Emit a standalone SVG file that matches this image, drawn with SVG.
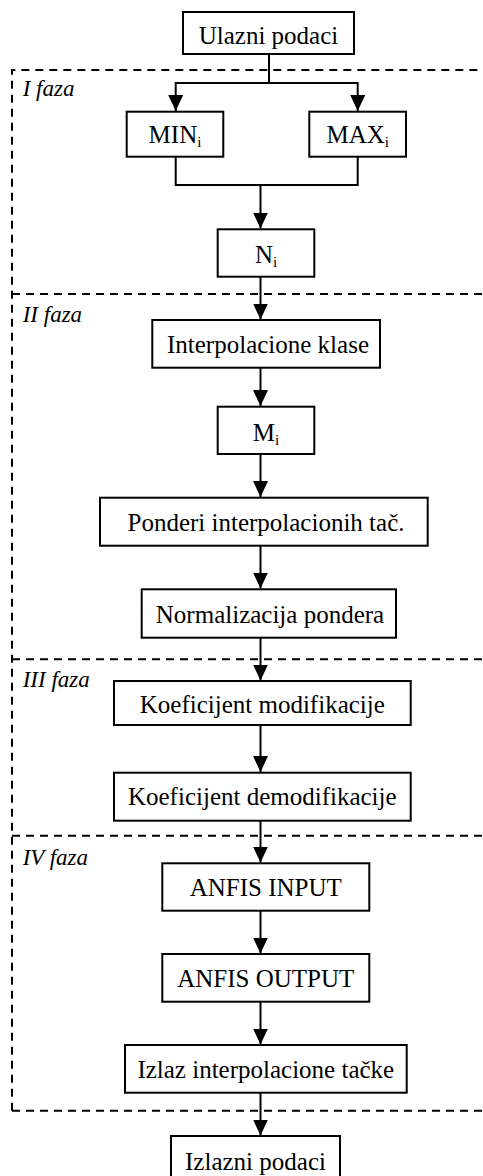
<svg xmlns="http://www.w3.org/2000/svg" width="483" height="1176" viewBox="0 0 483 1176">
<style>
.box{fill:#fff;stroke:#000;stroke-width:2}
.t{font-family:"Liberation Serif","Times New Roman",serif;font-size:25px;fill:#000;text-anchor:middle}
.s{font-size:15px}
.ph{font-family:"Liberation Serif","Times New Roman",serif;font-size:23px;font-style:italic;fill:#000}
.dash{stroke:#000;stroke-width:2;stroke-dasharray:8,6;fill:none}
.c{stroke:#000;stroke-width:2;fill:none}
</style>
<defs>
<marker id="ah" markerUnits="userSpaceOnUse" markerWidth="16" markerHeight="15" refX="16" refY="7.5" orient="auto" viewBox="0 0 16 15">
<path d="M0,0 L16,7.5 L0,15 Z" fill="#000"/>
</marker>
</defs>
<rect width="483" height="1176" fill="#fff"/>
<g id="phases">
<path class="dash" d="M12,1110.7 V70 H483"/>
<path class="dash" d="M12,294 H483"/>
<path class="dash" d="M12,659.3 H483"/>
<path class="dash" d="M12,835.7 H483"/>
<path class="dash" d="M12,1110.7 H483"/>
<text class="ph" x="22.7" y="96">I faza</text>
<text class="ph" x="22.7" y="321.7">II faza</text>
<text class="ph" x="22.7" y="687">III faza</text>
<text class="ph" x="22.7" y="865">IV faza</text>
</g>
<g id="connectors">
<path class="c" d="M269,54 V83 H175.7 V111" marker-end="url(#ah)"/>
<path class="c" d="M269,83 H357.7 V111" marker-end="url(#ah)"/>
<path class="c" d="M175.7,156.7 V185 H357.7 V156.7"/>
<path class="c" d="M260.5,185 V228.5" marker-end="url(#ah)"/>
<path class="c" d="M260.5,276.7 V319.5" marker-end="url(#ah)"/>
<path class="c" d="M260.5,367.7 V406" marker-end="url(#ah)"/>
<path class="c" d="M260.5,454 V497" marker-end="url(#ah)"/>
<path class="c" d="M260.5,545.7 V588.5" marker-end="url(#ah)"/>
<path class="c" d="M260.5,637.7 V680.5" marker-end="url(#ah)"/>
<path class="c" d="M260.5,725 V772" marker-end="url(#ah)"/>
<path class="c" d="M260.5,820.7 V862.5" marker-end="url(#ah)"/>
<path class="c" d="M260.5,910.7 V953.5" marker-end="url(#ah)"/>
<path class="c" d="M260.5,1001.7 V1044.5" marker-end="url(#ah)"/>
<path class="c" d="M260.5,1092.7 V1135.5" marker-end="url(#ah)"/>
</g>
<g id="n-ulazni">
<rect class="box" x="183" y="12" width="171" height="42"/>
<text class="t" x="268.5" y="44.3">Ulazni podaci</text>
</g>
<g id="n-min">
<rect class="box" x="126.7" y="111.7" width="96.6" height="45"/>
<text class="t" x="175" y="143">MIN<tspan class="s" dy="4">i</tspan></text>
</g>
<g id="n-max">
<rect class="box" x="309.3" y="111.7" width="96.7" height="45"/>
<text class="t" x="357.7" y="143">MAX<tspan class="s" dy="4">i</tspan></text>
</g>
<g id="n-n">
<rect class="box" x="217.7" y="229.3" width="96.6" height="47.4"/>
<text class="t" x="266" y="262.7">N<tspan class="s" dy="4">i</tspan></text>
</g>
<g id="n-interp">
<rect class="box" x="152.3" y="320" width="227.7" height="47.7"/>
<text class="t" x="268" y="353.3">Interpolacione klase</text>
</g>
<g id="n-m">
<rect class="box" x="217.7" y="406.7" width="96.6" height="47.3"/>
<text class="t" x="266" y="440.7">M<tspan class="s" dy="4">i</tspan></text>
</g>
<g id="n-ponderi">
<rect class="box" x="100" y="497.7" width="327.7" height="48"/>
<text class="t" x="266" y="531">Ponderi interpolacionih tač.</text>
</g>
<g id="n-norm">
<rect class="box" x="141.7" y="589.3" width="254.3" height="48.4"/>
<text class="t" x="270" y="623.3">Normalizacija pondera</text>
</g>
<g id="n-kmod">
<rect class="box" x="114" y="681" width="296.7" height="44"/>
<text class="t" x="262.3" y="713.3">Koeficijent modifikacije</text>
</g>
<g id="n-kdemod">
<rect class="box" x="114" y="772.7" width="296.7" height="48"/>
<text class="t" x="262.3" y="805">Koeficijent demodifikacije</text>
</g>
<g id="n-ain">
<rect class="box" x="162.3" y="863.3" width="207" height="47.4"/>
<text class="t" x="265.8" y="896">ANFIS INPUT</text>
</g>
<g id="n-aout">
<rect class="box" x="162.3" y="954" width="207" height="47.7"/>
<text class="t" x="265.8" y="986.7">ANFIS OUTPUT</text>
</g>
<g id="n-izlaz">
<rect class="box" x="125" y="1045" width="281.7" height="47.7"/>
<text class="t" x="265.8" y="1078.3">Izlaz interpolacione tačke</text>
</g>
<g id="n-izlazni">
<rect class="box" x="171" y="1136" width="169" height="48"/>
<text class="t" x="255.5" y="1170">Izlazni podaci</text>
</g>
</svg>
